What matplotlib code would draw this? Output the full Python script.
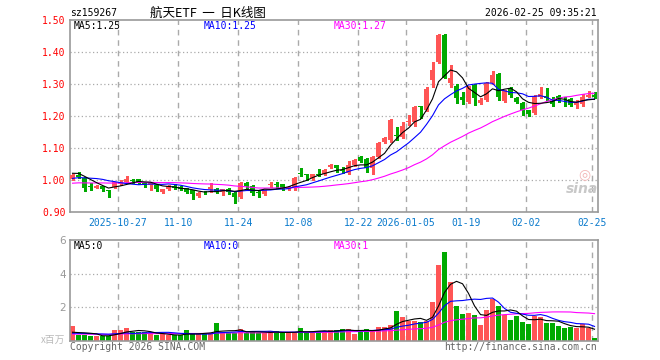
import numpy as np
import pandas as pd
import matplotlib
matplotlib.use("Agg")
import matplotlib.pyplot as plt

# ---------------- data ----------------
opens = [1.003, 1.015, 1.005, 0.980, 0.976, 0.980, 0.968, 0.979, 0.988, 0.993,
         1.000, 1.003, 0.992, 0.985, 0.984, 0.964, 0.971, 0.982, 0.979, 0.974,
         0.969, 0.950, 0.962, 0.973, 0.971, 0.961, 0.971, 0.958, 0.948, 0.992,
         0.981, 0.961, 0.956, 0.985, 0.987, 0.987, 0.972, 0.974, 1.022, 1.017,
         1.005, 1.019, 1.020, 1.042, 1.047, 1.030, 1.021, 1.047, 1.073, 1.066,
         1.036, 1.073, 1.120, 1.125, 1.140, 1.135, 1.182, 1.180, 1.231, 1.219,
         1.312, 1.370, 1.453, 1.302, 1.295, 1.258, 1.243, 1.297, 1.240, 1.250,
         1.302, 1.331, 1.248, 1.286, 1.257, 1.242, 1.219, 1.208, 1.260, 1.262,
         1.247, 1.262, 1.250, 1.252, 1.234, 1.236, 1.260, 1.265]
highs = [1.020, 1.025, 1.010, 0.990, 0.984, 0.982, 0.969, 0.995, 1.000, 1.013,
         1.002, 1.004, 0.993, 0.993, 0.986, 0.973, 0.985, 0.987, 0.981, 0.976,
         0.970, 0.962, 0.965, 0.990, 0.974, 0.973, 0.974, 0.962, 0.993, 0.993,
         0.985, 0.969, 0.970, 0.995, 0.995, 0.988, 0.981, 1.008, 1.036, 1.020,
         1.020, 1.033, 1.035, 1.050, 1.048, 1.042, 1.058, 1.065, 1.075, 1.068,
         1.075, 1.118, 1.133, 1.190, 1.167, 1.180, 1.203, 1.230, 1.232, 1.290,
         1.370, 1.455, 1.457, 1.360, 1.300, 1.276, 1.295, 1.300, 1.255, 1.305,
         1.340, 1.333, 1.280, 1.290, 1.260, 1.245, 1.220, 1.266, 1.292, 1.286,
         1.260, 1.265, 1.260, 1.255, 1.250, 1.270, 1.277, 1.275]
lows = [1.000, 1.005, 0.965, 0.970, 0.974, 0.966, 0.948, 0.975, 0.985, 0.990,
        0.990, 0.988, 0.977, 0.969, 0.965, 0.958, 0.969, 0.972, 0.968, 0.960,
        0.940, 0.948, 0.957, 0.963, 0.960, 0.953, 0.956, 0.929, 0.945, 0.976,
        0.953, 0.948, 0.953, 0.979, 0.976, 0.968, 0.970, 0.970, 1.012, 1.000,
        1.000, 1.012, 1.015, 1.037, 1.026, 1.021, 1.020, 1.045, 1.055, 1.026,
        1.020, 1.070, 1.115, 1.120, 1.125, 1.130, 1.172, 1.170, 1.195, 1.216,
        1.290, 1.365, 1.318, 1.292, 1.240, 1.236, 1.240, 1.235, 1.238, 1.248,
        1.300, 1.250, 1.245, 1.258, 1.240, 1.203, 1.200, 1.205, 1.255, 1.250,
        1.232, 1.245, 1.230, 1.230, 1.224, 1.232, 1.258, 1.255]
closes = [1.017, 1.008, 0.975, 0.978, 0.981, 0.973, 0.967, 0.993, 0.994, 1.003,
          0.998, 0.990, 0.985, 0.990, 0.972, 0.971, 0.981, 0.976, 0.971, 0.964,
          0.956, 0.960, 0.961, 0.979, 0.961, 0.971, 0.964, 0.948, 0.990, 0.981,
          0.958, 0.959, 0.969, 0.987, 0.985, 0.974, 0.979, 1.005, 1.020, 1.015,
          1.018, 1.017, 1.031, 1.047, 1.039, 1.029, 1.047, 1.062, 1.059, 1.039,
          1.073, 1.115, 1.130, 1.188, 1.138, 1.170, 1.185, 1.227, 1.228, 1.284,
          1.344, 1.453, 1.320, 1.318, 1.255, 1.250, 1.290, 1.255, 1.250, 1.302,
          1.328, 1.260, 1.279, 1.266, 1.245, 1.219, 1.205, 1.260, 1.270, 1.255,
          1.236, 1.252, 1.249, 1.234, 1.245, 1.260, 1.265, 1.258]
# volume, millions
volumes = [0.88, 0.34, 0.34, 0.28, 0.28, 0.32, 0.32, 0.64, 0.64, 0.76,
           0.54, 0.54, 0.54, 0.40, 0.34, 0.40, 0.34, 0.34, 0.34, 0.64,
           0.40, 0.40, 0.48, 0.48, 1.04, 0.54, 0.50, 0.50, 0.70, 0.50,
           0.55, 0.45, 0.45, 0.60, 0.60, 0.45, 0.45, 0.50, 0.78, 0.55,
           0.50, 0.60, 0.60, 0.64, 0.64, 0.70, 0.70, 0.44, 0.64, 0.70,
           0.60, 0.82, 0.82, 0.94, 1.78, 1.42, 1.20, 1.20, 1.12, 1.20,
           2.32, 4.54, 5.26, 3.52, 2.08, 1.60, 1.68, 1.54, 0.94, 1.84,
           2.52, 2.08, 1.54, 1.24, 1.48, 1.12, 1.00, 1.48, 1.40, 1.06,
           1.06, 0.88, 0.76, 0.82, 0.76, 1.00, 0.76, 0.16]

# closes / volumes before the window, only used to warm up the moving averages
warm_close = [0.975, 0.980, 0.985, 0.978, 0.972, 0.980, 0.988, 0.990, 0.985, 0.978,
              0.975, 0.982, 0.990, 0.985, 0.980, 0.978, 0.984, 0.990, 0.985, 0.990,
              0.985, 0.980, 0.990, 0.992, 0.998, 1.010, 1.020, 1.028, 1.030]
warm_vol = [0.38, 0.36, 0.40, 0.35, 0.42, 0.38, 0.36, 0.40, 0.37, 0.39,
            0.41, 0.36, 0.38, 0.40, 0.35, 0.37, 0.39, 0.36, 0.38, 0.40,
            0.42, 0.38, 0.40, 0.44, 0.40, 0.45, 0.42, 0.40, 0.46]

holidays = ["2026-01-01", "2026-01-02", "2026-02-16", "2026-02-17", "2026-02-18",
            "2026-02-19", "2026-02-20", "2026-02-23"]
tick_dates = ["2025-10-27", "2025-11-10", "2025-11-24", "2025-12-08", "2025-12-22",
              "2026-01-05", "2026-01-19", "2026-02-02", "2026-02-25"]
tick_labels = ["2025-10-27", "11-10", "11-24", "12-08", "12-22",
               "2026-01-05", "01-19", "02-02", "02-25"]

price_ticks = [0.90, 1.00, 1.10, 1.20, 1.30, 1.40, 1.50]
vol_ticks = [2, 4, 6]

# ---------------- styles ----------------
UP = "#ff5555"
DOWN = "#00aa00"
GRID = "#aaaaaa"
MONO = "DejaVu Sans Mono"
CJK = ["Noto Sans CJK SC", "DejaVu Sans"]
W, H = 660, 360


def px(x, y):
    return x / W, 1 - y / H


days = pd.bdate_range("2025-10-15", "2026-02-25")
days = days[~days.isin(pd.to_datetime(holidays))]
x = np.arange(len(days))
o, h, l, c = map(np.array, (opens, highs, lows, closes))
vol = np.array(volumes)
cols = np.where(c >= o, UP, DOWN)

nw = len(warm_close)
cs = pd.Series(warm_close + closes)
vs = pd.Series(warm_vol + volumes)
ma = {n: cs.rolling(n).mean().values[nw:] for n in (5, 10, 30)}
vma = {n: vs.rolling(n).mean().values[nw:] for n in (5, 10, 30)}
ma_cols = {5: "black", 10: "#0000ff", 30: "#ff00ff"}

tick_pos = [days.get_loc(pd.Timestamp(d)) - 0.4 for d in tick_dates]

fig = plt.figure(figsize=(W / 100, H / 100), dpi=100)
ax = fig.add_axes([70 / W, 1 - 212 / H, 528 / W, 192 / H])
axv = fig.add_axes([70 / W, 1 - 341 / H, 528 / W, 101 / H])

for a in (ax, axv):
    a.set_xlim(-0.42, len(x) - 0.42)
    for s in a.spines.values():
        s.set_color("#999999")
        s.set_linewidth(1.2)
    a.tick_params(length=0)
    for p in tick_pos:
        a.axvline(p, color=GRID, lw=1.0, ls=(0, (4, 3.5)), zorder=0)

# price panel
ax.set_ylim(0.90, 1.50)
for v in price_ticks[1:-1]:
    ax.axhline(v, color=GRID, lw=0.9, ls=(0, (1, 2)), zorder=0)
ax.vlines(x, l, h, colors=cols, lw=0.8, antialiased=False, zorder=2)
ax.bar(x, np.maximum(np.abs(c - o), 0.0025), bottom=np.minimum(o, c), width=0.83,
       color=cols, linewidth=0, antialiased=False, zorder=3)
for n in (30, 10, 5):
    ax.plot(x, ma[n], color=ma_cols[n], lw=0.8, zorder=4)
ax.set_yticks(price_ticks)
ax.set_yticklabels([f"{v:.2f}" for v in price_ticks], color="#ff0000",
                   fontsize=7, family=MONO)
ax.tick_params(axis="y", pad=3)
ax.set_xticks(tick_pos)
ax.set_xticklabels(tick_labels, color="#0a7acc", fontsize=7, family=MONO)
ax.tick_params(axis="x", pad=4.5)

# volume panel
axv.set_ylim(0, 6)
for v in vol_ticks[:-1]:
    axv.axhline(v, color=GRID, lw=0.9, ls=(0, (1, 2)), zorder=0)
axv.bar(x, vol, width=0.83, color=cols, linewidth=0, antialiased=False, zorder=2)
for n in (30, 10, 5):
    axv.plot(x, vma[n], color=ma_cols[n], lw=0.8, zorder=4)
axv.set_yticks(vol_ticks)
axv.set_yticklabels([str(v) for v in vol_ticks], color="#999999", fontsize=7.5)
axv.tick_params(axis="y", pad=3)
axv.set_xticks([])

# header / labels
fig.text(*px(70, 13), "sz159267", family=MONO, fontsize=7, va="center", ha="left")
fig.text(*px(150, 13), "航天ETF  一  日K线图", family=CJK, fontsize=9, va="center",
         ha="left")
fig.text(*px(597, 13), "2026-02-25 09:35:21", family=MONO, fontsize=7,
         va="center", ha="right")

fig.text(*px(74, 26), f"MA5:{ma[5][-1]:.2f}", family=MONO, fontsize=7, va="center",
         color=ma_cols[5])
fig.text(*px(204, 26), f"MA10:{ma[10][-1]:.2f}", family=MONO, fontsize=7, va="center",
         color=ma_cols[10])
fig.text(*px(334, 26), f"MA30:{ma[30][-1]:.2f}", family=MONO, fontsize=7, va="center",
         color=ma_cols[30])

fig.text(*px(74, 246), "MA5:0", family=MONO, fontsize=7, va="center", color=ma_cols[5])
fig.text(*px(204, 246), "MA10:0", family=MONO, fontsize=7, va="center", color=ma_cols[10])
fig.text(*px(334, 246), "MA30:1", family=MONO, fontsize=7, va="center", color=ma_cols[30])

fig.text(*px(65, 340), "x百万", family=CJK, fontsize=7, va="center", ha="right",
         color="#bbbbbb")
fig.text(*px(70, 347), "Copyright 2026 SINA.COM", family=MONO, fontsize=7,
         va="center", color="#666666")
fig.text(*px(597, 347), "http://finance.sina.com.cn", family=MONO, fontsize=7,
         va="center", ha="right", color="#666666")

# faint sina watermark
fig.text(*px(584, 174), "◎", fontsize=10, ha="center", va="center", color="#f3b5b5")
fig.text(*px(598, 189), "sina", fontsize=10, ha="right", va="center", color="#c8c8c8",
         style="italic", weight="bold")

fig.savefig("out.png", dpi=100)
